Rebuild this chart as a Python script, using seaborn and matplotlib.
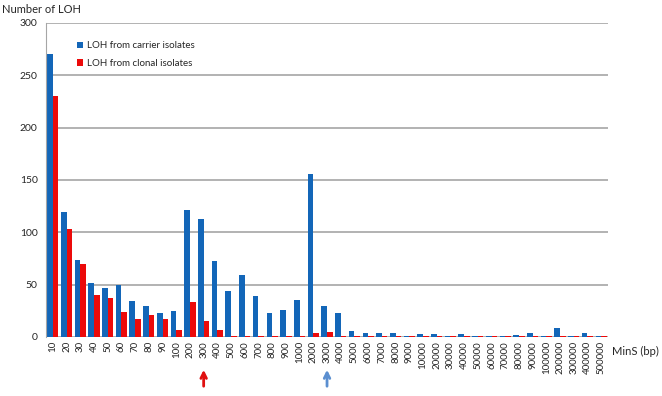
import pandas as pd
import matplotlib.pyplot as plt
import seaborn as sns
from matplotlib.transforms import blended_transform_factory

mins_bp = ["10", "20", "30", "40", "50", "60", "70", "80", "90",
           "100", "200", "300", "400", "500", "600", "700", "800", "900",
           "1000", "2000", "3000", "4000", "5000", "6000", "7000", "8000", "9000",
           "10000", "20000", "30000", "40000", "50000", "60000", "70000", "80000", "90000",
           "100000", "200000", "300000", "400000", "500000"]

carrier = [270, 119, 74, 52, 47, 50, 34, 30, 23,
           25, 121, 113, 73, 44, 59, 39, 23, 26,
           35, 156, 30, 23, 6, 4, 4, 4, 1,
           3, 3, 1, 3, 0.5, 1, 0.5, 2, 4,
           1, 9, 0.5, 4, 0.5]

clonal = [230, 103, 70, 40, 37, 24, 17, 21, 17,
          7, 33, 15, 7, 1, 1, 1, 1, 1,
          1, 4, 5, 1, 1, 1, 1, 1, 1,
          1, 1, 1, 1, 1, 1, 1, 1, 1,
          1, 1, 1, 1, 1]

series_names = ["LOH from carrier isolates", "LOH from clonal isolates"]

df = pd.DataFrame({
    "MinS": mins_bp * 2,
    "LOH": carrier + clonal,
    "series": [series_names[0]] * len(mins_bp) + [series_names[1]] * len(mins_bp),
})

sns.set_style("white")
plt.rcParams['font.family'] = ['Lato', 'DejaVu Sans']

fig = plt.figure(figsize=(6.62, 3.96), dpi=100)
ax = fig.add_axes([0.0695, 0.149, 0.849, 0.793])

blue = "#1366b8"
red = "#ec0a0a"
sns.barplot(data=df, x="MinS", y="LOH", hue="series", order=mins_bp,
            palette=[blue, red], saturation=1, width=0.82, ax=ax,
            edgecolor="none")

ax.set_ylim(0, 300)
ax.set_xlim(-0.5, len(mins_bp) - 0.5)
ax.set_yticks(range(0, 301, 50))
ax.yaxis.grid(True, color="#a6a6a6", linewidth=1.2)
ax.set_axisbelow(True)
for s in ["top", "right", "bottom"]:
    ax.spines[s].set_visible(False)
ax.spines["left"].set_color("#a6a6a6")
ax.axhline(0, color="#a6a6a6", linewidth=1.0, zorder=0)

ax.tick_params(axis="x", labelrotation=90, labelsize=7, length=0, pad=3)
ax.tick_params(axis="y", labelsize=7.5, length=0, pad=6)
ax.set_xlabel("")
ax.set_ylabel("")

fig.text(0.003, 0.975, "Number of LOH", fontsize=8, va="center", ha="left")
fig.text(0.925, 0.112, "MinS (bp)", fontsize=8, va="center", ha="left")

leg = ax.legend(loc="upper left", bbox_to_anchor=(0.04, 0.97), frameon=False,
                fontsize=7, handlelength=0.6, handleheight=0.6, handletextpad=0.4,
                labelspacing=0.9)

# arrows under 300 and 3000
trans = blended_transform_factory(ax.transData, fig.transFigure)
for cat, col in [("300", "#e01010"), ("3000", "#5b8fd0")]:
    xi = mins_bp.index(cat)
    ax.annotate("", xy=(xi, 1 - 367 / 396), xytext=(xi, 1 - 389 / 396),
                xycoords=trans, textcoords=trans, annotation_clip=False,
                arrowprops=dict(arrowstyle="->", color=col, lw=2,
                                mutation_scale=10))

fig.savefig("out.png", dpi=100)
